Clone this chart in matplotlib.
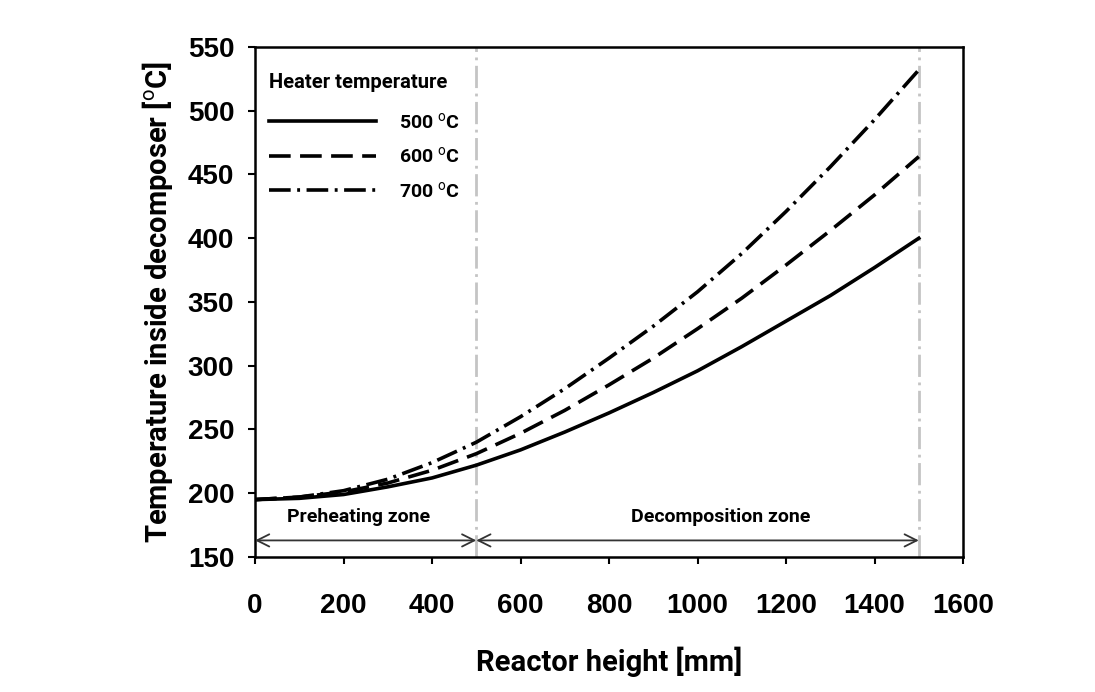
import matplotlib
matplotlib.use("Agg")
import matplotlib.pyplot as plt
import numpy as np

# ---- data ----
height_mm = [0, 100, 200, 300, 400, 500, 600, 700, 800, 900, 1000, 1100, 1200, 1300, 1400, 1500]
t_500 = [195, 196, 199, 205, 212, 222, 234, 248, 263, 279, 296, 315, 335, 355, 377, 400]
t_600 = [195, 197, 201, 208, 218, 231, 247, 265, 285, 306, 329, 353, 379, 406, 434, 464]
t_700 = [195, 197, 202, 211, 224, 240, 260, 282, 306, 331, 358, 388, 421, 456, 493, 532]
series_labels = ["500 $^{\\mathrm{o}}$C", "600 $^{\\mathrm{o}}$C", "700 $^{\\mathrm{o}}$C"]
zone_bounds = [0, 500, 1500]
zone_names = ["Preheating zone", "Decomposition zone"]
zone_label_x = [233, 1053]
xticks = [0, 200, 400, 600, 800, 1000, 1200, 1400, 1600]
yticks = [150, 200, 250, 300, 350, 400, 450, 500, 550]

narrow = ["Roboto", "DejaVu Sans"]
plt.rcParams["font.family"] = narrow
plt.rcParams["mathtext.fontset"] = "custom"
plt.rcParams["mathtext.rm"] = "Roboto"
plt.rcParams["mathtext.it"] = "Roboto:italic"
plt.rcParams["mathtext.bf"] = "Roboto:bold"

fig = plt.figure(figsize=(10.95, 6.92), dpi=100)
ax = fig.add_axes([0.2329, 0.1951, 0.6466, 0.7370])

lw = 2.6
ax.plot(height_mm, t_500, color="black", lw=lw, ls="-", label=series_labels[0])
ax.plot(height_mm, t_600, color="black", lw=lw, ls=(0, (6, 2.6)), label=series_labels[1])
ax.plot(height_mm, t_700, color="black", lw=lw, ls=(0, (6, 1.8, 0.8, 1.8)), label=series_labels[2])

for xb in zone_bounds[1:]:
    ax.axvline(xb, color="#c4c4c4", lw=2, ls=(0, (8, 2, 1, 2)), zorder=0)

arrow_y = 163
text_y = 181
for i in range(2):
    x0, x1 = zone_bounds[i], zone_bounds[i + 1]
    ax.annotate("", xy=(x1, arrow_y), xytext=(x0, arrow_y),
                arrowprops=dict(arrowstyle="<->", color="#333333", lw=1.3,
                                shrinkA=0, shrinkB=0, mutation_scale=22))
    ax.text(zone_label_x[i], text_y, zone_names[i], ha="center", va="center",
            fontsize=14, fontweight="bold", family=narrow)

ax.set_xlim(0, 1600)
ax.set_ylim(150, 550)
ax.set_xticks(xticks)
ax.set_yticks(yticks)
for lab in ax.get_xticklabels() + ax.get_yticklabels():
    lab.set_family(["Liberation Sans", "DejaVu Sans"])
    lab.set_fontweight("bold")
    lab.set_fontsize(20)
ax.tick_params(axis="x", direction="out", length=5, width=1.5, pad=21)
ax.tick_params(axis="y", direction="out", length=5, width=1.5, pad=10)
for s in ax.spines.values():
    s.set_linewidth(1.8)

ax.set_xlabel("Reactor height [mm]", fontsize=21, fontweight="bold", labelpad=20)
ax.set_ylabel("Temperature inside decomposer [$^{\\mathrm{o}}$C]", fontsize=21,
              fontweight="bold", labelpad=9)

leg = ax.legend(loc="upper left", bbox_to_anchor=(0.0, 0.975), frameon=False,
                title="Heater temperature", handlelength=5.5, handletextpad=1.2,
                labelspacing=0.75, prop=dict(family=narrow, size=14, weight="bold"),
                title_fontproperties=dict(family=narrow, size=14.5, weight="bold"),
                alignment="left", borderaxespad=0.3)
leg._legend_box.sep = 14

fig.savefig("out.png", dpi=100)
